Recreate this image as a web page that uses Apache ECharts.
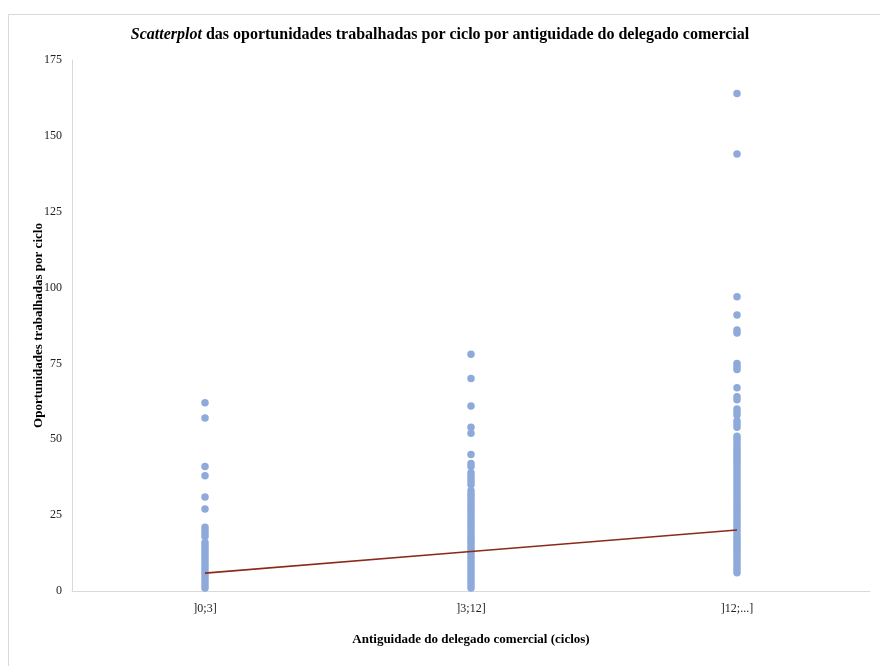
<!DOCTYPE html>
<html>
<head>
<meta charset="utf-8">
<script src="https://cdn.jsdelivr.net/npm/echarts@6/dist/echarts.min.js"></script>
<style>
  html, body { margin: 0; padding: 0; background: #fff; }
  #chart { width: 880px; height: 666px; }
</style>
</head>
<body>
<div id="chart"></div>
<script>
var categories = [']0;3]', ']3;12]', ']12;...]'];

// oportunidades por ciclo
var grupo1 = [62, 57, 41, 38, 31, 27, 21, 20, 19, 18, 16, 15, 14, 13, 12, 11, 10, 9, 8, 7, 6, 5, 4, 3, 2, 1];
var grupo2 = [78, 70, 61, 54, 52, 45, 42, 41, 39, 38, 37, 36, 35,
  33, 32, 31, 30, 29, 28, 27, 26, 25, 24, 23, 22, 21, 20, 19, 18, 17,
  16, 15, 14, 13, 12, 11, 10, 9, 8, 7, 6, 5, 4, 3, 2, 1];
var grupo3 = [164, 144, 97, 91, 86, 85, 75, 74, 73, 67, 64, 63, 60, 59, 58,
  56, 55, 54, 51, 50, 49, 48, 47, 46, 45, 44, 43, 42,
  41, 40, 39, 38, 37, 36, 35, 34, 33, 32, 31, 30, 29, 28, 27, 26, 25, 24,
  23, 22, 21, 20, 19, 18, 17, 16, 15, 14, 13, 12, 11, 10, 9, 8, 7, 6];
var tendencia = [5.9, 13.0, 20.1];

var chart = echarts.init(document.getElementById('chart'), null, { renderer: 'canvas' });

var pontos = [];
[grupo1, grupo2, grupo3].forEach(function (g, i) {
  g.forEach(function (v) { pontos.push([i, v]); });
});

var serif = '"Liberation Serif", "Times New Roman", serif';

var option = {
  backgroundColor: '#fff',
  animation: false,
  textStyle: { fontFamily: serif },
  title: {
    text: '{i|Scatterplot} das oportunidades trabalhadas por ciclo por antiguidade do delegado comercial',
    left: 'center',
    top: 22,
    textStyle: {
      fontFamily: serif,
      fontSize: 16,
      fontWeight: 'bold',
      color: '#000',
      rich: {
        i: { fontFamily: serif, fontSize: 16, fontWeight: 'bold', fontStyle: 'italic', color: '#000' }
      }
    }
  },
  graphic: [{
    type: 'rect',
    shape: { x: 8.5, y: 14.5, width: 900, height: 700 },
    style: { fill: 'none', stroke: '#d9d9d9', lineWidth: 1 },
    silent: true
  }],
  grid: { left: 72, right: 10, top: 60, bottom: 75 },
  xAxis: {
    type: 'category',
    data: categories,
    boundaryGap: true,
    name: 'Antiguidade do delegado comercial (ciclos)',
    nameLocation: 'middle',
    nameGap: 42,
    nameMoveOverlap: false,
    nameTextStyle: { fontFamily: serif, fontSize: 13, fontWeight: 'bold', color: '#000' },
    axisLine: { lineStyle: { color: '#d9d9d9', width: 1 } },
    axisTick: { show: false },
    axisLabel: { fontFamily: serif, fontSize: 12, color: '#222', margin: 12 },
    splitLine: { show: false }
  },
  yAxis: {
    type: 'value',
    min: 0,
    max: 175,
    interval: 25,
    name: 'Oportunidades trabalhadas por ciclo',
    nameLocation: 'middle',
    nameGap: 27,
    nameMoveOverlap: false,
    nameTextStyle: { fontFamily: serif, fontSize: 13, fontWeight: 'bold', color: '#000' },
    axisLine: { show: true, lineStyle: { color: '#d9d9d9', width: 1 } },
    axisTick: { show: false },
    axisLabel: { fontFamily: serif, fontSize: 12, color: '#222', margin: 10 },
    splitLine: { show: false }
  },
  series: [
    {
      type: 'scatter',
      data: pontos,
      symbolSize: 7.5,
      itemStyle: { color: '#8eaadb', opacity: 1 }
    },
    {
      type: 'line',
      data: tendencia,
      symbol: 'none',
      lineStyle: { color: '#8b2a1a', width: 1.6 },
      z: 3
    }
  ]
};

chart.setOption(option);
window.addEventListener('resize', chart.resize);
</script>
</body>
</html>
